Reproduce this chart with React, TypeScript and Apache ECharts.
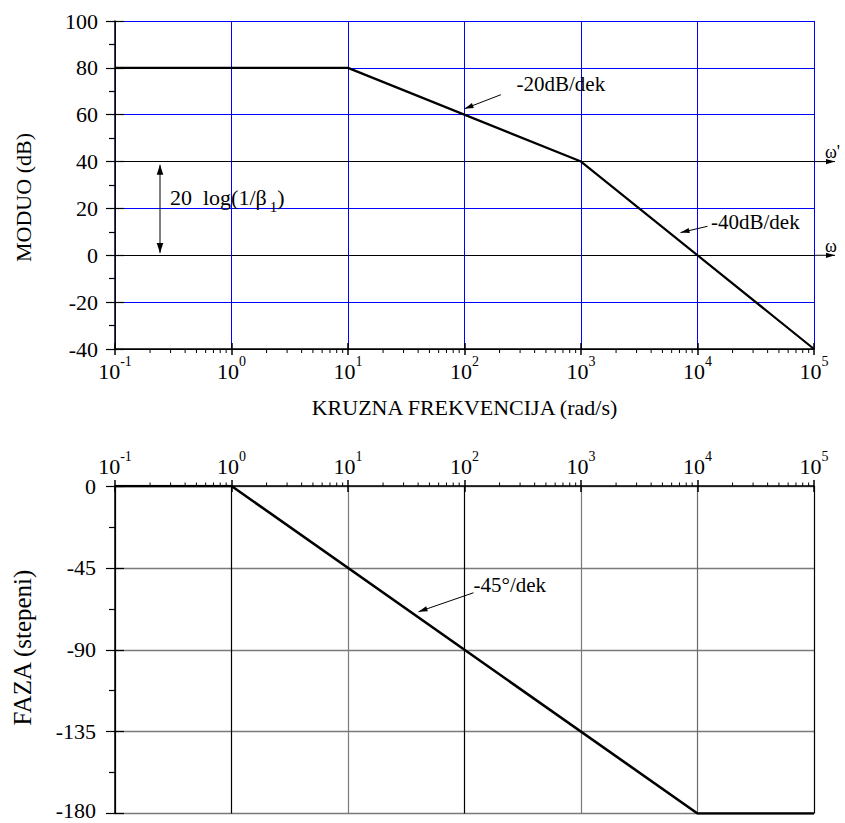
import React, { useEffect, useRef } from 'react';
import * as echarts from 'echarts';

const FONT = "'Liberation Serif', 'Times New Roman', Times, serif";

// ---- data ----
const magFreq = [0.1, 10, 1000, 100000];
const magDb = [80, 80, 40, -40];
const phaseFreq = [0.1, 1, 10000, 100000];
const phaseDeg = [0, 0, -180, -180];

const freqMin = 0.1;
const freqMax = 100000;
const magMin = -40;
const magMax = 100;
const magStep = 20;
const phaseMin = -180;
const phaseMax = 0;
const phaseStep = 45;

const minorDecades = [0.1, 1, 10, 100, 1000, 10000];
const minorMultipliers = [2, 3, 4, 5, 6, 7, 8, 9];

const crossoverLevels = [40, 0];
const crossoverLabels = ["ω'", 'ω'];
const slopeLabels = ['-20dB/dek', '-40dB/dek'];
const slopeAnchors = [[100, 60], [10000, 0]];
const gainSpan = [40, 0];
const gainLabelLevel = 20;
const phaseSlopeLabel = '-45°/dek';
const phaseSlopeAnchor = [100, -90];

const magSplitColors = ['#000000', '#0000ff', '#000000', '#0000ff', '#000000', '#0000ff', '#0000ff', '#0000ff'];
const phaseVSplitColors = ['#000000', '#000000', '#7a7a7a', '#000000', '#7a7a7a', '#6a6a6a', '#000000'];

// ---- layout ----
const G0 = { left: 115, top: 21, width: 699, height: 328 };
const G1 = { left: 115, top: 486, width: 699, height: 327.5 };

const minorTicks: number[] = [];
minorDecades.forEach((d) => minorMultipliers.forEach((m) => minorTicks.push(d * m)));

const powRich = {
  b: { fontFamily: FONT, fontSize: 22, color: '#000', lineHeight: 28, verticalAlign: 'bottom' },
  s: { fontFamily: FONT, fontSize: 14, color: '#000', lineHeight: 14, verticalAlign: 'top' },
};
const powLabel = (v: number) => `{b|10}{s|${Math.round(Math.log10(v))}}`;

const phaseRich = {
  n: { fontFamily: FONT, fontSize: 22, color: '#000', lineHeight: 18 },
  lo: { fontFamily: FONT, fontSize: 22, color: '#000', lineHeight: 18, padding: [0, 0, 7, 0] },
};
const phaseLabel = (v: number) => (v === phaseMin ? `{lo|${v}}` : `{n|${v}}`);

function seg(a: number[], b: number[], w = 1, c = '#000') {
  return { type: 'line', shape: { x1: a[0], y1: a[1], x2: b[0], y2: b[1] }, style: { stroke: c, lineWidth: w } };
}
function head(tip: number[], from: number[], len: number, hw: number) {
  const dx = tip[0] - from[0];
  const dy = tip[1] - from[1];
  const d = Math.hypot(dx, dy) || 1;
  const ux = dx / d;
  const uy = dy / d;
  const bx = tip[0] - ux * len;
  const by = tip[1] - uy * len;
  return {
    type: 'polygon',
    shape: { points: [tip, [bx - uy * hw, by + ux * hw], [bx + uy * hw, by - ux * hw]] },
    style: { fill: '#000' },
  };
}
function arrow(from: number[], tip: number[], len = 8, hw = 2.6) {
  return [seg(from, tip), head(tip, from, len, hw)];
}
const add = (p: number[], dx: number, dy: number) => [p[0] + dx, p[1] + dy];
function txt(p: number[], text: string, size: number, align = 'left', extra: any = {}) {
  return {
    type: 'text',
    x: p[0],
    y: p[1],
    style: { text, fontFamily: FONT, fontSize: size, fill: '#000', align, verticalAlign: 'middle', ...extra },
  };
}

const hiddenTickAxis = (extra: any) => ({
  ...extra,
  axisLine: { show: false, onZero: false },
  axisLabel: { show: false },
  splitLine: { show: false },
  minorTick: { show: false },
});

export default function App() {
  const ref = useRef<HTMLDivElement>(null);
  useEffect(() => {
    if (!ref.current) return;
    const chart = echarts.init(ref.current, undefined, { renderer: 'svg' });

    const xBase = { type: 'log', logBase: 10, min: freqMin, max: freqMax, splitNumber: 6 };

    const option: any = {
      animation: false,
      backgroundColor: '#fff',
      grid: [
        { ...G0, containLabel: false, outerBoundsMode: 'none' },
        { ...G1, containLabel: false, outerBoundsMode: 'none' },
      ],
      xAxis: [
        {
          ...xBase,
          gridIndex: 0,
          position: 'bottom',
          axisLine: { show: true, onZero: false, lineStyle: { color: '#000', width: 1.5 } },
          axisTick: { show: true, inside: false, length: 6, lineStyle: { color: '#000', width: 1.5 } },
          minorTick: { show: false },
          axisLabel: { show: true, margin: 5, formatter: powLabel, rich: powRich, showMinLabel: true, showMaxLabel: true, hideOverlap: false },
          splitLine: { show: true, showMinLine: true, showMaxLine: true, lineStyle: { color: '#0000ff', width: 1 } },
          name: 'KRUZNA FREKVENCIJA (rad/s)',
          nameLocation: 'middle',
          nameGap: 47,
          nameTextStyle: { fontFamily: FONT, fontSize: 22, color: '#000' },
        },
        hiddenTickAxis({
          ...xBase,
          gridIndex: 0,
          position: 'bottom',
          axisTick: { show: true, inside: true, length: 6, lineStyle: { color: '#000', width: 1.5 } },
        }),
        {
          ...xBase,
          gridIndex: 1,
          position: 'top',
          axisLine: { show: true, onZero: false, lineStyle: { color: '#000', width: 1.5 } },
          axisTick: { show: true, inside: false, length: 6, lineStyle: { color: '#000', width: 1.5 } },
          minorTick: { show: false },
          axisLabel: { show: true, margin: 9, formatter: powLabel, rich: powRich, showMinLabel: true, showMaxLabel: true, hideOverlap: false },
          splitLine: { show: true, showMinLine: true, showMaxLine: true, lineStyle: { color: phaseVSplitColors, width: 1.2 } },
        },
        hiddenTickAxis({
          ...xBase,
          gridIndex: 1,
          position: 'top',
          axisTick: { show: true, inside: true, length: 6, lineStyle: { color: '#000', width: 1.5 } },
        }),
      ],
      yAxis: [
        {
          type: 'value',
          gridIndex: 0,
          position: 'left',
          min: magMin,
          max: magMax,
          interval: magStep,
          axisLine: { show: true, onZero: false, lineStyle: { color: '#000', width: 1.5 } },
          axisTick: { show: true, inside: false, length: 9, lineStyle: { color: '#000', width: 1.2 } },
          minorTick: { show: true, splitNumber: 2, length: 6, lineStyle: { color: '#000', width: 1.2 } },
          axisLabel: { show: true, margin: 17, fontFamily: FONT, fontSize: 22, lineHeight: 18, color: '#000' },
          splitLine: { show: true, showMinLine: true, showMaxLine: true, lineStyle: { color: magSplitColors, width: 1 } },
        },
        hiddenTickAxis({
          type: 'value',
          gridIndex: 0,
          position: 'left',
          min: magMin,
          max: magMax,
          interval: magStep,
          axisTick: { show: true, inside: true, length: 9, lineStyle: { color: '#000', width: 1.2 } },
        }),
        {
          type: 'value',
          gridIndex: 1,
          position: 'left',
          min: phaseMin,
          max: phaseMax,
          interval: phaseStep,
          axisLine: { show: true, onZero: false, lineStyle: { color: '#000', width: 1.5 } },
          axisTick: { show: true, inside: false, length: 9, lineStyle: { color: '#000', width: 1.2 } },
          minorTick: { show: true, splitNumber: 2, length: 6, lineStyle: { color: '#000', width: 1.2 } },
          axisLabel: { show: true, margin: 19, formatter: phaseLabel, rich: phaseRich, color: '#000' },
          splitLine: { show: true, showMinLine: true, showMaxLine: true, lineStyle: { color: '#7a7a7a', width: 1.3 } },
        },
        hiddenTickAxis({
          type: 'value',
          gridIndex: 1,
          position: 'left',
          min: phaseMin,
          max: phaseMax,
          interval: phaseStep,
          axisTick: { show: true, inside: true, length: 9, lineStyle: { color: '#000', width: 1.2 } },
        }),
      ],
      graphic: [
        {
          type: 'text',
          x: 23,
          y: 197.5,
          rotation: Math.PI / 2,
          style: { text: 'MODUO (dB)', fontFamily: FONT, fontSize: 22, fill: '#000', align: 'center', verticalAlign: 'middle' },
        },
        {
          type: 'text',
          x: 22,
          y: 647.5,
          rotation: Math.PI / 2,
          style: { text: 'FAZA (stepeni)', fontFamily: FONT, fontSize: 25, fill: '#000', align: 'center', verticalAlign: 'middle' },
        },
      ],
      series: [
        {
          type: 'line',
          xAxisIndex: 0,
          yAxisIndex: 0,
          data: magFreq.map((f, i) => [f, magDb[i]]),
          symbol: 'none',
          lineStyle: { color: '#000', width: 2.2 },
          z: 5,
          silent: true,
        },
        {
          type: 'line',
          xAxisIndex: 2,
          yAxisIndex: 2,
          data: phaseFreq.map((f, i) => [f, phaseDeg[i]]),
          symbol: 'none',
          lineStyle: { color: '#000', width: 2.6 },
          z: 5,
          silent: true,
        },
        {
          type: 'custom',
          xAxisIndex: 0,
          yAxisIndex: 0,
          silent: true,
          clip: false,
          data: minorTicks.map((v) => [v, magMin]),
          renderItem: (_p: any, api: any) => {
            const p = api.coord([api.value(0), api.value(1)]);
            return seg(p, [p[0], p[1] + 4], 1);
          },
        },
        {
          type: 'custom',
          xAxisIndex: 2,
          yAxisIndex: 2,
          silent: true,
          clip: false,
          data: minorTicks.map((v) => [v, phaseMax]),
          renderItem: (_p: any, api: any) => {
            const p = api.coord([api.value(0), api.value(1)]);
            return seg(p, [p[0], p[1] - 3.5], 1);
          },
        },
        {
          type: 'custom',
          xAxisIndex: 0,
          yAxisIndex: 0,
          silent: true,
          clip: false,
          z: 6,
          data: [[freqMin, magMin]],
          renderItem: (_p: any, api: any) => {
            const children: any[] = [];
            crossoverLevels.forEach((lvl, i) => {
              const p = api.coord([freqMax, lvl]);
              children.push(...arrow(p, add(p, 21, 0), 9, 2.6));
              children.push(txt(add(p, 11, i === 0 ? -10 : -9), crossoverLabels[i], 18, 'left'));
            });
            // -20 dB/dek
            const a1 = api.coord(slopeAnchors[0]);
            children.push(...arrow(add(a1, 36.4, -20), add(a1, 0, -6), 9, 2.6));
            children.push(txt(add(a1, 52, -31), slopeLabels[0], 21, 'left'));
            // -40 dB/dek
            const a2 = api.coord(slopeAnchors[1]);
            children.push(...arrow(add(a2, 10, -29), add(a2, -17, -22.7), 9, 2.6));
            children.push(txt(add(a2, 13.5, -33.3), slopeLabels[1], 21, 'left'));
            // 20 log(1/β1)
            const top = api.coord([freqMin, gainSpan[0]]);
            const bot = api.coord([freqMin, gainSpan[1]]);
            const t = add(top, 45, 3.3);
            const b = add(bot, 45, -2.3);
            children.push(seg(t, b, 1));
            children.push(head(t, b, 10, 3.3));
            children.push(head(b, t, 10, 3.3));
            const g = api.coord([freqMin, gainLabelLevel]);
            children.push({
              type: 'text',
              x: g[0] + 55,
              y: g[1] - 11,
              style: {
                text: '{a|20  log(1/β}{s|1}{a|)}',
                verticalAlign: 'middle',
                align: 'left',
                rich: {
                  a: { fontFamily: FONT, fontSize: 22, fill: '#000', color: '#000', lineHeight: 22 },
                  s: { fontFamily: FONT, fontSize: 15, fill: '#000', color: '#000', lineHeight: 15, padding: [20, 0, 0, 3] },
                },
              },
            });
            return { type: 'group', children };
          },
        },
        {
          type: 'custom',
          xAxisIndex: 2,
          yAxisIndex: 2,
          silent: true,
          clip: false,
          z: 6,
          data: [[freqMin, phaseMin]],
          renderItem: (_p: any, api: any) => {
            const a = api.coord(phaseSlopeAnchor);
            return {
              type: 'group',
              children: [
                ...arrow(add(a, 9, -57), add(a, -46, -38), 9, 2.6),
                txt(add(a, 9, -65), phaseSlopeLabel, 21, 'left'),
              ],
            };
          },
        },
      ],
    };

    chart.setOption(option);
    return () => chart.dispose();
  }, []);

  return (
    <div
      ref={ref}
      style={{ position: 'fixed', left: 0, top: 0, width: 845, height: 823, background: '#fff' }}
    />
  );
}
